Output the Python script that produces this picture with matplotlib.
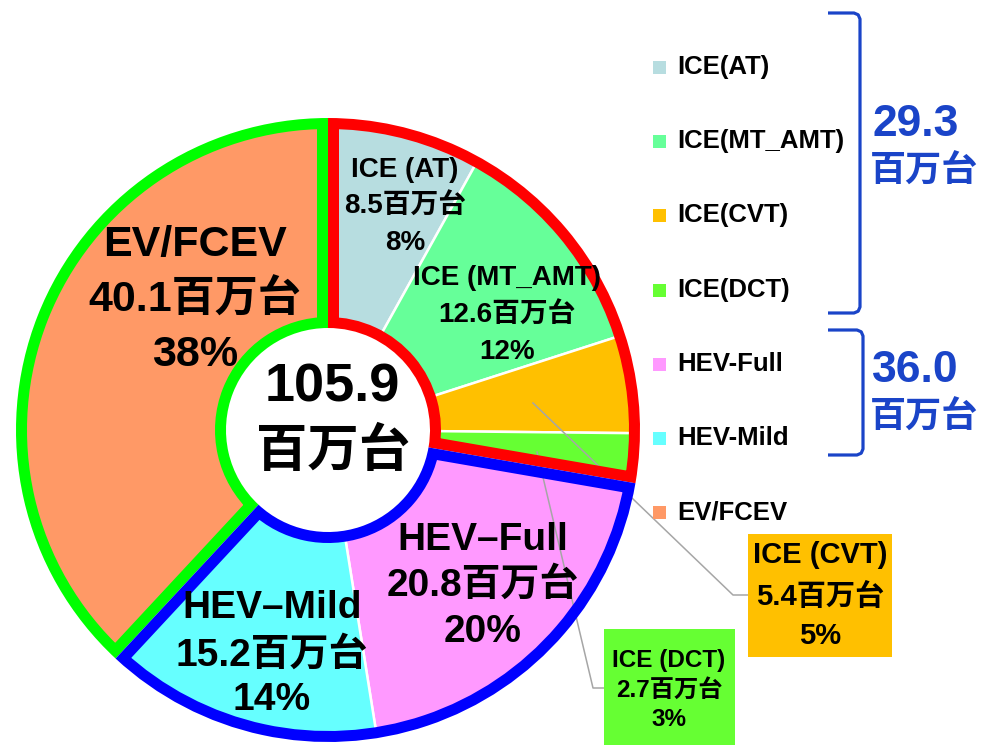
import numpy as np
import matplotlib
matplotlib.use('Agg')
import matplotlib.pyplot as plt
from matplotlib.patches import Wedge, Rectangle
from matplotlib import font_manager

# ---------------- data ----------------
categories = ['ICE(AT)', 'ICE(MT_AMT)', 'ICE(CVT)', 'ICE(DCT)', 'HEV-Full', 'HEV-Mild', 'EV/FCEV']
slice_names = ['ICE (AT)', 'ICE (MT_AMT)', 'ICE (CVT)', 'ICE (DCT)', 'HEV–Full', 'HEV–Mild', 'EV/FCEV']
values = [8.5, 12.6, 5.4, 2.7, 20.8, 15.2, 40.1]
percents = [8, 12, 5, 3, 20, 14, 38]
group_totals = [29.3, 36.0]
grand_total = 105.9
unit = '百万台'
colors = ['#B7DDE0', '#66FF99', '#FFC000', '#66FF33', '#FF99FF', '#66FFFF', '#FF9966']

# ---------------- fonts ----------------
names = {f.name for f in font_manager.fontManager.ttflist}
LAT = 'Liberation Sans Narrow' if 'Liberation Sans Narrow' in names else 'Liberation Sans'
FAM = [LAT, 'Noto Sans CJK JP', 'DejaVu Sans']
FAM_W = ['Liberation Sans', 'Noto Sans CJK JP', 'DejaVu Sans']

Wpx, Hpx = 986, 746
fig = plt.figure(figsize=(Wpx / 100, Hpx / 100), dpi=100)
ax = fig.add_axes([0, 0, 1, 1])

CX, CY = 328, 430
R = 312
RIN = 102
WID = R - RIN
C = (CX, Hpx - CY)

wedges, _ = ax.pie(values, colors=colors, startangle=90, counterclock=False,
                   radius=R, center=C,
                   wedgeprops=dict(width=WID, edgecolor='white', linewidth=1.8))
ax.set_xlim(0, Wpx)
ax.set_ylim(0, Hpx)
ax.set_aspect('auto')
ax.axis('off')

# leader lines (under the group outlines)
ax.plot([533, 733, 748], [Hpx - 403, Hpx - 595, Hpx - 595], color='#A6A6A6', lw=1.1, zorder=3)
ax.plot([537, 593, 604], [Hpx - 452, Hpx - 688, Hpx - 688], color='#A6A6A6', lw=1.1, zorder=3)

# group outlines (stroke inside each group)
total = sum(values)
cum = np.concatenate([[0], np.cumsum(values)])
groups = [(6, 7, '#00FF00'), (0, 4, '#FF0000'), (4, 6, '#0000FF')]
for i0, i1, col in groups:
    t2 = 90 - 360 * cum[i0] / total
    t1 = 90 - 360 * cum[i1] / total
    clip = Wedge(C, R, t1, t2, width=WID, transform=ax.transData)
    ol = Wedge(C, R, t1, t2, width=WID, fill=False, edgecolor=col,
               linewidth=2 * 11 * 0.72, joinstyle='miter', zorder=4)
    ax.add_patch(ol)
    ol.set_clip_path(clip)


def txt(x, y, s, size, fam=FAM, color='black', ha='center'):
    ax.text(x, Hpx - y, s, fontsize=size, family=fam,
            weight='bold', color=color, ha=ha, va='center', zorder=6)


# labels in slices: (index, center x, line ys, fontsize)
inside = [
    (0, 405, [170, 207, 243], 20),
    (1, 507, [278, 316, 352], 20),
    (6, 195, [245, 300, 355], 31),
    (4, 483, [540, 585, 632], 28),
    (5, 272, [608, 655, 700], 28),
]
for i, x, ys, fs in inside:
    lines = [slice_names[i], f'{values[i]}{unit}', f'{percents[i]}%']
    for yy, s in zip(ys, lines):
        txt(x, yy, s, fs)

# callout boxes
ax.add_patch(Rectangle((748, Hpx - 657), 144, 123, facecolor=colors[2], edgecolor='none', zorder=5))
ax.add_patch(Rectangle((604, Hpx - 745), 131, 116, facecolor=colors[3], edgecolor='none', zorder=5))
boxes = [
    (2, 820, [555, 597, 636], 21),
    (3, 669, [660, 690, 720], 17.5),
]
for i, x, ys, fs in boxes:
    lines = [slice_names[i], f'{values[i]}{unit}', f'{percents[i]}%']
    for yy, s in zip(ys, lines):
        txt(x, yy, s, fs)

# center total
txt(332, 388, f'{grand_total}', 39)
txt(333, 452, unit, 37)

# legend
leg_y = [67, 141, 215, 290, 364, 438, 512]
for c, lab, yy in zip(colors, categories, leg_y):
    ax.add_patch(Rectangle((653, Hpx - yy - 6.5), 13, 13, facecolor=c, edgecolor='none', zorder=5))
    txt(677, yy, lab, 18.5, ha='left')

# brackets and group totals
BLUE = '#1A44C8'
def bracket(x0, x1, ytop, ybot):
    r = 6
    xs = [x0, x1 - r, x1 - r * 0.3, x1, x1, x1 - r * 0.3, x1 - r, x0]
    ys = [ytop, ytop, ytop + r * 0.3, ytop + r, ybot - r, ybot - r * 0.3, ybot, ybot]
    ax.plot(xs, [Hpx - v for v in ys], color=BLUE, lw=2.3, solid_capstyle='butt', zorder=5)

bracket(828, 860, 13, 313)
bracket(828, 863, 330, 455)

txt(872, 124, f'{group_totals[0]}', 32, fam=FAM_W, color=BLUE, ha='left')
txt(870, 172, unit, 26, fam=FAM_W, color=BLUE, ha='left')
txt(872, 370, f'{group_totals[1]}', 32, fam=FAM_W, color=BLUE, ha='left')
txt(870, 418, unit, 26, fam=FAM_W, color=BLUE, ha='left')

fig.savefig('out.png', dpi=100)
